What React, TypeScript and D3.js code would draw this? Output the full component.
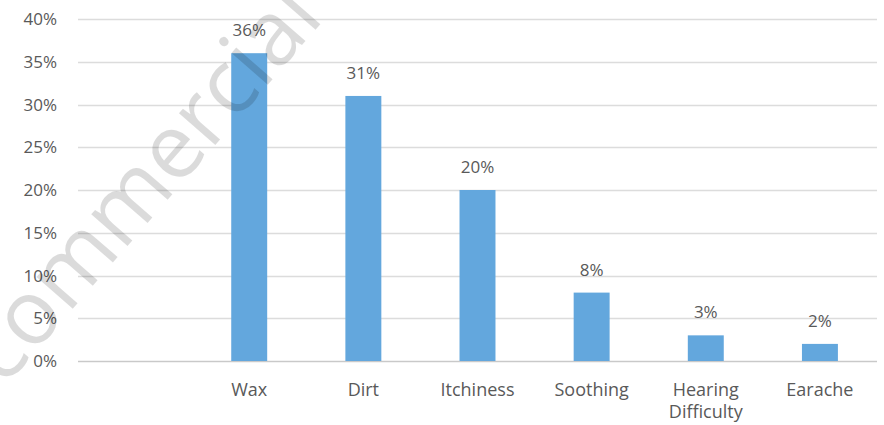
import { useEffect, useRef } from "react";
import * as d3 from "d3";

const categories = ["", "Wax", "Dirt", "Itchiness", "Soothing", "Hearing Difficulty", "Earache"];
const values = [null, 0.36, 0.31, 0.2, 0.08, 0.03, 0.02];
const yTicks = [0, 0.05, 0.1, 0.15, 0.2, 0.25, 0.3, 0.35, 0.4];

const WIDTH = 884;
const HEIGHT = 425;

const App = () => {
    const svgRef: any = useRef<SVGSVGElement>(null);

    useEffect(() => {
        document.body.style.margin = "0";
        const svg = d3.select(svgRef.current);
        svg.selectAll("*").remove();

        const font = "'Open Sans', 'Noto Sans', sans-serif";
        const textColor = "#595959";

        const x = d3
            .scaleBand()
            .domain(categories.map((c, i) => i + ""))
            .range([78, 877])
            .paddingInner(0.685)
            .paddingOuter(0.3425);

        const y = d3.scaleLinear().domain([0, 0.4]).range([361, 19]);

        // gridlines
        svg.append("g")
            .selectAll("line")
            .data(yTicks)
            .join("line")
            .attr("x1", 78)
            .attr("x2", 877)
            .attr("y1", (d) => Math.round(y(d)) + 0.5)
            .attr("y2", (d) => Math.round(y(d)) + 0.5)
            .attr("stroke", (d) => (d === 0 ? "#c9c9c9" : "#dcdcdc"))
            .attr("stroke-width", 1.5);

        // y labels
        svg.append("g")
            .selectAll("text")
            .data(yTicks)
            .join("text")
            .attr("x", 57)
            .attr("y", (d) => y(d) + 6)
            .attr("text-anchor", "end")
            .attr("font-family", font)
            .attr("font-size", 17)
            .attr("fill", textColor)
            .text((d) => d3.format(".0%")(d));

        const barData = values
            .map((v, i) => ({ key: i + "", v }))
            .filter((d) => d.v !== null) as { key: string; v: number }[];

        // bars
        svg.append("g")
            .selectAll("rect")
            .data(barData)
            .join("rect")
            .attr("x", (d) => x(d.key)!)
            .attr("width", x.bandwidth())
            .attr("y", (d) => y(d.v))
            .attr("height", (d) => y(0) - y(d.v))
            .attr("fill", "#63a7dd");

        // value labels
        svg.append("g")
            .selectAll("text")
            .data(barData)
            .join("text")
            .attr("x", (d) => x(d.key)! + x.bandwidth() / 2)
            .attr("y", (d) => y(d.v) - 17)
            .attr("text-anchor", "middle")
            .attr("font-family", font)
            .attr("font-size", 17)
            .attr("fill", textColor)
            .text((d) => d3.format(".0%")(d.v));

        // category labels
        const catG = svg.append("g");
        categories.forEach((c, i) => {
            if (!c) return;
            const words = c === "Hearing Difficulty" ? ["Hearing", "Difficulty"] : [c];
            const t = catG
                .append("text")
                .attr("text-anchor", "middle")
                .attr("font-family", font)
                .attr("font-size", 18)
                .attr("fill", textColor);
            words.forEach((w, j) => {
                t.append("tspan")
                    .attr("x", x(i + "")! + x.bandwidth() / 2)
                    .attr("y", 396 + j * 22)
                    .text(w);
            });
        });

        // watermark
        svg.append("text")
            .attr("transform", "translate(4,388) rotate(-49)")
            .attr("font-family", font)
            .attr("font-size", 90)
            .attr("font-weight", 500)
            .attr("fill", "#000")
            .attr("fill-opacity", 0.14)
            .text("commercial use");
    }, []);

    return (
        <svg ref={svgRef} width={WIDTH} height={HEIGHT} style={{ display: "block", background: "#fff" }}></svg>
    );
};

export default App;
